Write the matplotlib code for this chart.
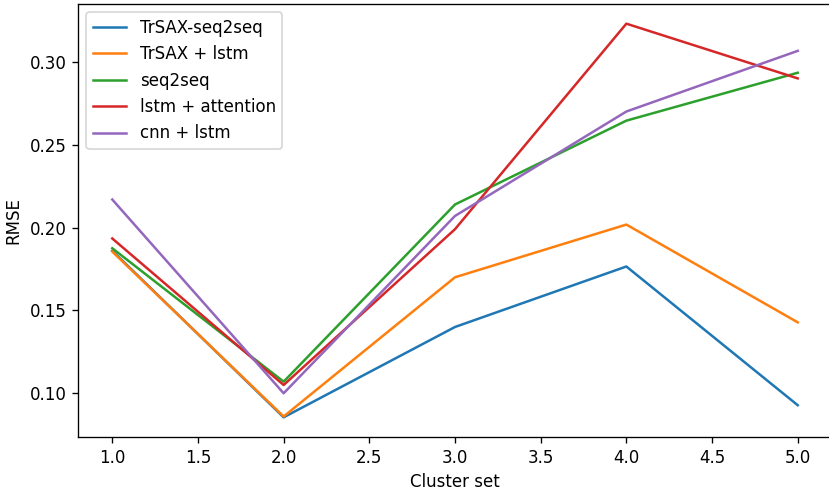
import numpy as np
import matplotlib
matplotlib.use("Agg")
import matplotlib.pyplot as plt

cluster_set = [1.0, 2.0, 3.0, 4.0, 5.0]
trsax_seq2seq = [0.186, 0.0855, 0.140, 0.1765, 0.0928]
trsax_lstm = [0.1855, 0.086, 0.170, 0.2018, 0.1428]
seq2seq = [0.1875, 0.107, 0.2139, 0.2645, 0.2934]
lstm_attention = [0.1934, 0.105, 0.199, 0.323, 0.290]
cnn_lstm = [0.2169, 0.100, 0.207, 0.270, 0.3066]

# reference looks rendered at ~1.2x the default scale
fig = plt.figure(figsize=(829 / 120, 491 / 120), dpi=120)
ax = fig.add_axes([78 / 829, 1 - 437 / 491, (832 - 78) / 829, (437 - 4) / 491])

ax.plot(cluster_set, trsax_seq2seq, label="TrSAX-seq2seq")
ax.plot(cluster_set, trsax_lstm, label="TrSAX + lstm")
ax.plot(cluster_set, seq2seq, label="seq2seq")
ax.plot(cluster_set, lstm_attention, label="lstm + attention")
ax.plot(cluster_set, cnn_lstm, label="cnn + lstm")

ax.set_xlabel("Cluster set")
ax.set_ylabel("RMSE")
ax.set_yticks([0.10, 0.15, 0.20, 0.25, 0.30])
ax.legend(loc="upper left")

fig.savefig("out.png", dpi=120)
